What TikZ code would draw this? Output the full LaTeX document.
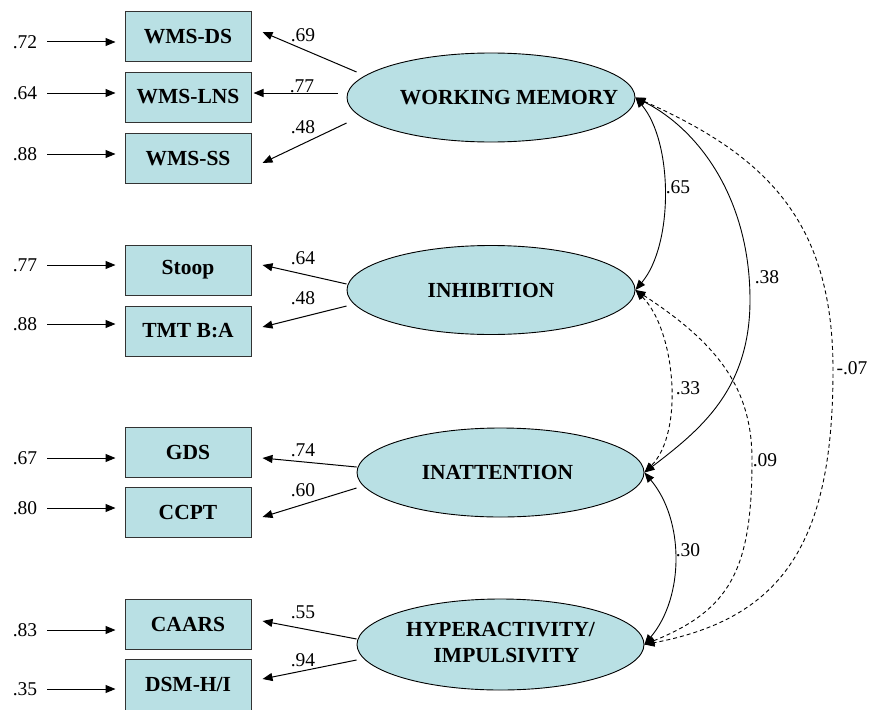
\documentclass[tikz,border=0pt]{standalone}
\usepackage{fontspec}
\setmainfont{Liberation Serif}
\usetikzlibrary{shapes.geometric,arrows.meta,calc}
\definecolor{boxfill}{RGB}{185,224,228}
\begin{document}
\begin{tikzpicture}[x=1pt,y=-1pt,
  obs/.style={draw=black!80,fill=boxfill,line width=1pt,minimum width=126pt,
    minimum height=50pt,inner sep=0pt,font=\fontsize{21.5}{24}\selectfont\bfseries},
  latent/.style={ellipse,draw=black,fill=boxfill,line width=0.9pt,minimum width=288pt,
    minimum height=89pt,inner sep=0pt,font=\fontsize{21.5}{27}\selectfont\bfseries},
  num/.style={font=\fontsize{19.5}{22}\selectfont,inner sep=0pt},
  tip/.style={-{Triangle[length=10pt,width=8pt]}},
  err/.style={tip,line width=1pt,shorten <=10pt,shorten >=9pt},
  load/.style={tip,line width=1pt},
  cov/.style={{Triangle[length=10pt,width=8pt]}-{Triangle[length=10pt,width=8pt]},line width=0.9pt},
  covd/.style={cov,dash pattern=on 4pt off 3pt}
]
\useasboundingbox (0,0) rectangle (872,709);

% observed indicators
\node[obs] (ds)    at (188,37)    {WMS-DS};
\node[obs] (lns)   at (188,97)    {WMS-LNS};
\node[obs] (ss)    at (188,158.5) {WMS-SS};
\node[obs] (stoop) at (188,270)   {Stoop};
\node[obs] (tmt)   at (188,331)   {TMT B:A};
\node[obs] (gds)   at (188,452.5) {GDS};
\node[obs] (ccpt)  at (188,512.5) {CCPT};
\node[obs] (caars) at (188,624.5) {CAARS};
\node[obs,minimum height=51pt] (dsm) at (188,684.5) {DSM-H/I};

% latent factors
\node[latent] (wm)    at (491,97.5)  {\makebox[0pt]{\hspace{36pt}WORKING MEMORY}};
\node[latent] (inh)   at (491,290)   {\makebox[0pt]{INHIBITION}};
\node[latent,minimum width=287pt] (inatt) at (500.5,472.5) {\makebox[0pt]{\hspace{-6pt}INATTENTION}};
\node[latent,minimum width=287pt,minimum height=91pt] (hyp) at (500.5,644.5)
  {\makebox[0pt]{\begin{tabular}{@{}c@{}}HYPERACTIVITY/\\[-1pt]\hspace{12pt}IMPULSIVITY\end{tabular}}};

% error terms
\node[num] (e1) at (25,42)  {.72};
\node[num] (e2) at (25,93)  {.64};
\node[num] (e3) at (25,154) {.88};
\node[num] (e4) at (25,265) {.77};
\node[num] (e5) at (25,324) {.88};
\node[num] (e6) at (25,458) {.67};
\node[num] (e7) at (25,508) {.80};
\node[num] (e8) at (25,630) {.83};
\node[num] (e9) at (25,689) {.35};
\draw[err] (e1.east) -- (e1.east -| ds.west);
\draw[err] (e2.east) -- (e2.east -| lns.west);
\draw[err] (e3.east) -- (e3.east -| ss.west);
\draw[err] (e4.east) -- (e4.east -| stoop.west);
\draw[err] (e5.east) -- (e5.east -| tmt.west);
\draw[err] (e6.east) -- (e6.east -| gds.west);
\draw[err] (e7.east) -- (e7.east -| ccpt.west);
\draw[err] (e8.east) -- (e8.east -| caars.west);
\draw[err] (e9.east) -- (e9.east -| dsm.west);

% factor loadings
\draw[load] ($(wm.west)+(10,-25.5)$) -- ($(ds.east)+(11,-5)$);
\draw[load] ($(wm.west)+(-9,-4.5)$)  -- ($(lns.east)+(2,-4)$);
\draw[load] ($(wm.west)+(0,25.5)$)   -- ($(ss.east)+(11,4.5)$);
\draw[load] ($(inh.west)+(0,-6)$)    -- ($(stoop.east)+(11,-5)$);
\draw[load] ($(inh.west)+(0,16)$)    -- ($(tmt.east)+(11,-4)$);
\draw[load] ($(inatt.west)+(0,-5.5)$) -- ($(gds.east)+(11,5.5)$);
\draw[load] ($(inatt.west)+(0,15.5)$) -- ($(ccpt.east)+(11,4.5)$);
\draw[load] ($(hyp.west)+(0,-5.5)$)  -- ($(caars.east)+(11,-3.5)$);
\draw[load] ($(hyp.west)+(0,15.5)$)  -- ($(dsm.east)+(11,-5.5)$);

\node[num] (l1) at (303,35)  {.69};
\node[num] (l2) at (302,86)  {.77};
\node[num] (l3) at (303,127) {.48};
\node[num] (l4) at (303,258) {.64};
\node[num] (l5) at (303,298) {.48};
\node[num] (l6) at (303,450) {.74};
\node[num] (l7) at (303,490) {.60};
\node[num] (l8) at (303,612) {.55};
\node[num] (l9) at (303,660) {.94};

% factor covariances
\coordinate (m38) at (750,300);
\coordinate (m07) at (833,370);
\coordinate (m09) at (752,460);

\draw[cov] (wm.east) .. controls +(38,45) and +(38,-45) .. (inh.east);
\draw[cov] (wm.east) .. controls (700,130) and (750,200) .. (m38)
  .. controls (750,390) and (700,430) .. (inatt.east);
\draw[covd] (wm.east) .. controls (765,155) and (833,220) .. (m07)
  .. controls (833,540) and (785,618) .. (hyp.east);
\draw[covd] (inh.east) .. controls +(40,40) and +(40,-40) .. (inatt.east);
\draw[covd] (inh.east) .. controls (720,345) and (752,390) .. (m09)
  .. controls (752,570) and (730,610) .. (hyp.east);
\draw[cov] (inatt.east) .. controls +(40,47.5) and +(40,-47.5) .. (hyp.east);

\node[num] (c1) at (678,187) {.65};
\node[num] (c2) at (767,277) {.38};
\node[num] (c3) at (688,388) {.33};
\node[num] (c4) at (765,460) {.09};
\node[num] (c5) at (852,368) {-.07};
\node[num] (c6) at (688,550) {.30};
\end{tikzpicture}
\end{document}
